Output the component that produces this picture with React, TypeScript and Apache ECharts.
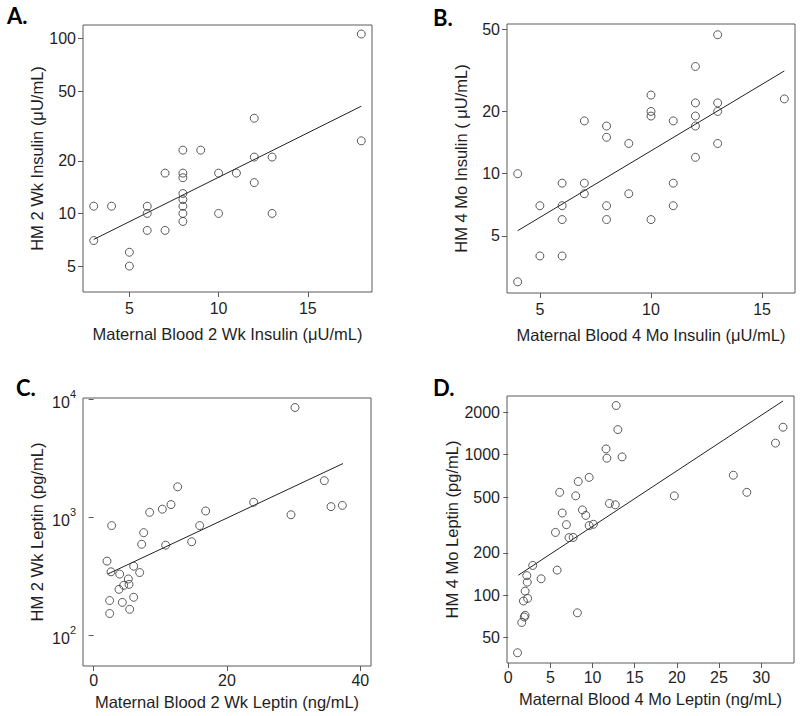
import React, { useEffect, useRef } from "react";
import * as echarts from "echarts";

// ---- Panel A: 2 Wk insulin ----
const bloodInsulin2Wk = [3, 4, 3, 5, 5, 6, 6, 6, 7, 7, 8, 9, 8, 8, 8, 8, 8, 8, 8, 10, 10, 11, 12, 12, 13, 13, 12, 18, 18];
const milkInsulin2Wk = [11, 11, 7, 6, 5, 11, 10, 8, 17, 8, 23, 23, 17, 16, 13, 12, 11, 10, 9, 17, 10, 17, 21, 15, 21, 10, 35, 106, 26];
const fitInsulin2WkX = [3, 18];
const fitInsulin2WkY = [7.1, 41];
const xTicksA = [5, 10, 15];
const yTicksA = [5, 10, 20, 50, 100];

// ---- Panel B: 4 Mo insulin ----
const bloodInsulin4Mo = [4, 4, 5, 5, 6, 6, 6, 6, 7, 7, 7, 8, 8, 8, 8, 9, 9, 10, 10, 10, 10, 11, 11, 11, 12, 12, 12, 12, 12, 13, 13, 13, 13, 16];
const milkInsulin4Mo = [10, 3, 7, 4, 9, 7, 6, 4, 18, 9, 8, 17, 15, 7, 6, 14, 8, 24, 20, 19, 6, 18, 9, 7, 33, 22, 19, 17, 12, 47, 22, 20, 14, 23];
const fitInsulin4MoX = [4, 16];
const fitInsulin4MoY = [5.3, 31.4];
const xTicksB = [5, 10, 15];
const yTicksB = [5, 10, 20, 50];

// ---- Panel C: 2 Wk leptin ----
const bloodLeptin2Wk = [12.6, 24, 8.4, 10.3, 11.6, 16.8, 2.7, 7.5, 15.9, 7.2, 10.8, 14.7, 2, 2.6, 3.9, 6, 6.9, 5.2, 5.3, 4.5, 3.8, 2.4, 4.3, 6, 5.4, 2.4, 30.2, 34.6, 35.6, 37.3, 29.6];
const milkLeptin2Wk = [1810, 1340, 1100, 1170, 1280, 1130, 850, 740, 850, 590, 580, 620, 425, 345, 330, 385, 340, 300, 270, 265, 245, 197, 190, 210, 166, 153, 8500, 2040, 1230, 1260, 1050];
const fitLeptin2WkX = [2.1, 37.4];
const fitLeptin2WkY = [330, 2850];
const xTicksC = [0, 20, 40];
const yTicksC = [100, 1000, 10000];

// ---- Panel D: 4 Mo leptin ----
const bloodLeptin4Mo = [12.8, 13, 11.6, 11.7, 13.5, 32.6, 31.7, 26.7, 28.3, 19.7, 9.6, 8.3, 6.1, 8, 12, 12.7, 6.4, 8.8, 9.2, 6.9, 9.6, 10.1, 5.6, 7.2, 7.7, 2.9, 5.8, 2.2, 3.9, 2.25, 2, 1.8, 2.3, 2, 1.9, 1.6, 8.2, 1.1];
const milkLeptin4Mo = [2240, 1510, 1100, 945, 965, 1570, 1210, 715, 540, 510, 690, 645, 540, 510, 450, 440, 385, 405, 370, 318, 313, 320, 280, 257, 258, 163, 151, 138, 131, 124, 107, 91, 95, 72, 70, 64, 75, 39];
const fitLeptin4MoX = [1.2, 32.6];
const fitLeptin4MoY = [139, 2415];
const xTicksD = [0, 5, 10, 15, 20, 25, 30];
const yTicksD = [50, 100, 200, 500, 1000, 2000];

const FONT = "'Liberation Sans', Arial, sans-serif";
const TEXT = "#1f1f1f";
const BOX = "#5a5a5a";

type Panel = {
  letter: string;
  letterPos: [number, number];
  grid: { left: number; top: number; width: number; height: number };
  xRange: [number, number];
  yRange: [number, number];
  xTicks: number[];
  yTicks: number[];
  xs: number[];
  ys: number[];
  fitX: number[];
  fitY: number[];
  xName: string;
  yName: string;
  xNameGap: number;
  xLabelMargin: number;
  power: boolean;
};

const panels: Panel[] = [
  {
    letter: "A.", letterPos: [7, 4],
    grid: { left: 83, top: 25, width: 289, height: 267 },
    xRange: [2.4, 18.6], yRange: [0.551, 2.077],
    xTicks: xTicksA, yTicks: yTicksA,
    xs: bloodInsulin2Wk, ys: milkInsulin2Wk, fitX: fitInsulin2WkX, fitY: fitInsulin2WkY,
    xName: "Maternal Blood 2 Wk Insulin (\u03bcU/mL)", yName: "HM 2 Wk Insulin (\u03bcU/mL)",
    xNameGap: 33, xLabelMargin: 8, power: false,
  },
  {
    letter: "B.", letterPos: [433, 6],
    grid: { left: 507, top: 24, width: 288, height: 269 },
    xRange: [3.52, 16.48], yRange: [0.423, 1.724],
    xTicks: xTicksB, yTicks: yTicksB,
    xs: bloodInsulin4Mo, ys: milkInsulin4Mo, fitX: fitInsulin4MoX, fitY: fitInsulin4MoY,
    xName: "Maternal Blood 4 Mo Insulin (\u03bcU/mL)", yName: "HM 4 Mo Insulin ( \u03bcU/mL)",
    xNameGap: 33, xLabelMargin: 8, power: false,
  },
  {
    letter: "C.", letterPos: [16, 376],
    grid: { left: 83, top: 398, width: 288, height: 268 },
    xRange: [-1.6, 41.6], yRange: [1.74, 4.01],
    xTicks: xTicksC, yTicks: yTicksC,
    xs: bloodLeptin2Wk, ys: milkLeptin2Wk, fitX: fitLeptin2WkX, fitY: fitLeptin2WkY,
    xName: "Maternal Blood 2 Wk Leptin (ng/mL)", yName: "HM 2 Wk Leptin (pg/mL)",
    xNameGap: 27, xLabelMargin: 6, power: true,
  },
  {
    letter: "D.", letterPos: [433, 376],
    grid: { left: 507, top: 396, width: 287, height: 267 },
    xRange: [-0.15, 33.9], yRange: [1.518, 3.418],
    xTicks: xTicksD, yTicks: yTicksD,
    xs: bloodLeptin4Mo, ys: milkLeptin4Mo, fitX: fitLeptin4MoX, fitY: fitLeptin4MoY,
    xName: "Maternal Blood 4 Mo Leptin (ng/mL)", yName: "HM 4 Mo Leptin (pg/mL)",
    xNameGap: 27, xLabelMargin: 6, power: false,
  },
];

function buildOption() {
  const grids: any[] = [];
  const xAxes: any[] = [];
  const yAxes: any[] = [];
  const series: any[] = [];
  const graphics: any[] = [];

  panels.forEach((p, i) => {
    grids.push({ ...p.grid, show: true, borderColor: BOX, borderWidth: 1, backgroundColor: "transparent", containLabel: false });
    const xt = p.xTicks;
    const yt = p.yTicks.map((v) => Math.log10(v));
    xAxes.push({
      type: "value", gridIndex: i, min: p.xRange[0], max: p.xRange[1],
      axisLine: { show: false },
      splitLine: { show: false },
      axisTick: { show: true, length: 5, lineStyle: { color: BOX }, customValues: xt },
      axisLabel: { customValues: xt, margin: p.xLabelMargin, color: TEXT, fontSize: 16, fontFamily: FONT, formatter: (v: number) => String(Math.round(v)) },
      name: p.xName, nameLocation: "middle", nameGap: p.xNameGap,
      nameTextStyle: { color: TEXT, fontSize: 16.5, fontFamily: FONT },
    });
    yAxes.push({
      type: "value", gridIndex: i, min: p.yRange[0], max: p.yRange[1],
      axisLine: { show: false },
      splitLine: { show: false },
      axisTick: { show: true, length: 5, lineStyle: { color: BOX }, customValues: yt },
      axisLabel: {
        customValues: yt, margin: 7, color: TEXT, fontSize: 16, fontFamily: FONT,
        formatter: p.power
          ? (v: number) => `{b|10}{s|${Math.round(v)}}`
          : (v: number) => String(Math.round(Math.pow(10, v))),
        rich: p.power
          ? {
              b: { fontSize: 16, fontFamily: FONT, color: TEXT, lineHeight: 22, verticalAlign: "bottom" },
              s: { fontSize: 11, fontFamily: FONT, color: TEXT, lineHeight: 12, verticalAlign: "top" },
            }
          : undefined,
      },
      name: p.yName, nameLocation: "middle", nameGap: 38,
      nameTextStyle: { color: TEXT, fontSize: 16.5, fontFamily: FONT },
    });
    series.push({
      type: "scatter", xAxisIndex: i, yAxisIndex: i,
      symbol: "circle", symbolSize: 8,
      itemStyle: { color: "rgba(0,0,0,0)", borderColor: "#333", borderWidth: 1 },
      data: p.xs.map((x, k) => [x, Math.log10(p.ys[k])]),
      z: 3,
    });
    series.push({
      type: "line", xAxisIndex: i, yAxisIndex: i,
      symbol: "none",
      lineStyle: { color: "#222", width: 1 },
      data: p.fitX.map((x, k) => [x, Math.log10(p.fitY[k])]),
      z: 2,
    });
    graphics.push({
      type: "text", left: p.letterPos[0], top: p.letterPos[1],
      style: { text: p.letter, fontSize: 22, fontWeight: "bold", fontFamily: "Lato, 'Open Sans', sans-serif", fill: "#000" },
    });
  });

  return {
    animation: false,
    backgroundColor: "#fff",
    grid: grids,
    xAxis: xAxes,
    yAxis: yAxes,
    series,
    graphic: graphics,
  };
}

export default function App() {
  const ref = useRef<HTMLDivElement>(null);
  useEffect(() => {
    if (!ref.current) return;
    const chart = echarts.init(ref.current, undefined, { renderer: "svg" });
    chart.setOption(buildOption());
    return () => chart.dispose();
  }, []);
  return <div ref={ref} style={{ position: "fixed", left: 0, top: 0, width: 800, height: 716, background: "#fff" }} />;
}
